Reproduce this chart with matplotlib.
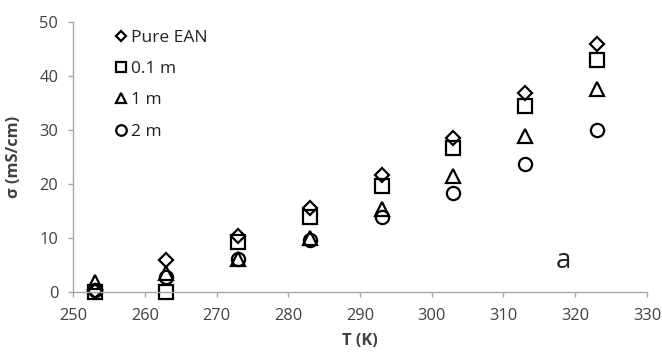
import matplotlib
matplotlib.use("Agg")
import matplotlib.pyplot as plt

plt.rcParams['font.family'] = ['Open Sans', 'DejaVu Sans']

temperature = [253, 263, 273, 283, 293, 303, 313, 323]
pure_ean = [0.2, 6.0, 10.4, 15.6, 21.7, 28.6, 36.8, 46.0]
m01 = [0.0, 0.0, 9.3, 13.9, 19.6, 26.7, 34.4, 43.0]
m1 = [1.8, 3.5, 6.2, 10.0, 15.3, 21.4, 28.9, 37.6]
m2 = [0.3, 2.8, 6.2, 9.6, 13.8, 18.4, 23.7, 30.0]

series = [
    ("Pure EAN", pure_ean, "D", 7),
    ("0.1 m", m01, "s", 9.5),
    ("1 m", m1, "^", 9.5),
    ("2 m", m2, "o", 9.5),
]

fig = plt.figure(figsize=(6.62, 3.54), dpi=100)
ax = fig.add_axes([0.1103, 0.1751, 0.8670, 0.7628])

for label, vals, mk, ms in series:
    ax.plot(temperature, vals, linestyle="none", marker=mk, markersize=ms,
            markerfacecolor="none", markeredgecolor="black",
            markeredgewidth=1.6, label=label, clip_on=False)

ax.set_xlim(250, 330)
ax.set_ylim(0, 50)
ax.set_xticks(range(250, 331, 10))
ax.set_yticks(range(0, 51, 10))

for side in ("top", "right"):
    ax.spines[side].set_visible(False)
for side in ("left", "bottom"):
    ax.spines[side].set_color("#a6a6a6")
    ax.spines[side].set_linewidth(1.0)
ax.tick_params(axis="both", colors="#a6a6a6", labelcolor="#404040",
               labelsize=11.8, length=3.6, width=1.0)
ax.tick_params(axis="x", pad=8)
ax.tick_params(axis="y", pad=7)

ax.set_xlabel("T (K)", fontsize=11.8, fontweight="bold", color="#404040")
ax.set_ylabel("σ (mS/cm)", fontsize=11.8, fontweight="bold", color="#404040")
ax.xaxis.set_label_coords(0.5, -0.152)
ax.yaxis.set_label_coords(-0.089, 0.5)

leg = ax.legend(loc="upper left", bbox_to_anchor=(0.06, 0.998), frameon=False,
                fontsize=12.5, handletextpad=0.15, handlelength=0.8,
                labelspacing=0.88, markerscale=0.8, borderaxespad=0.0)
for t in leg.get_texts():
    t.set_color("#222222")

ax.text(318.3, 5.7, "a", fontsize=20, color="#222222", ha="center", va="center")

fig.savefig("out.png", dpi=100)
